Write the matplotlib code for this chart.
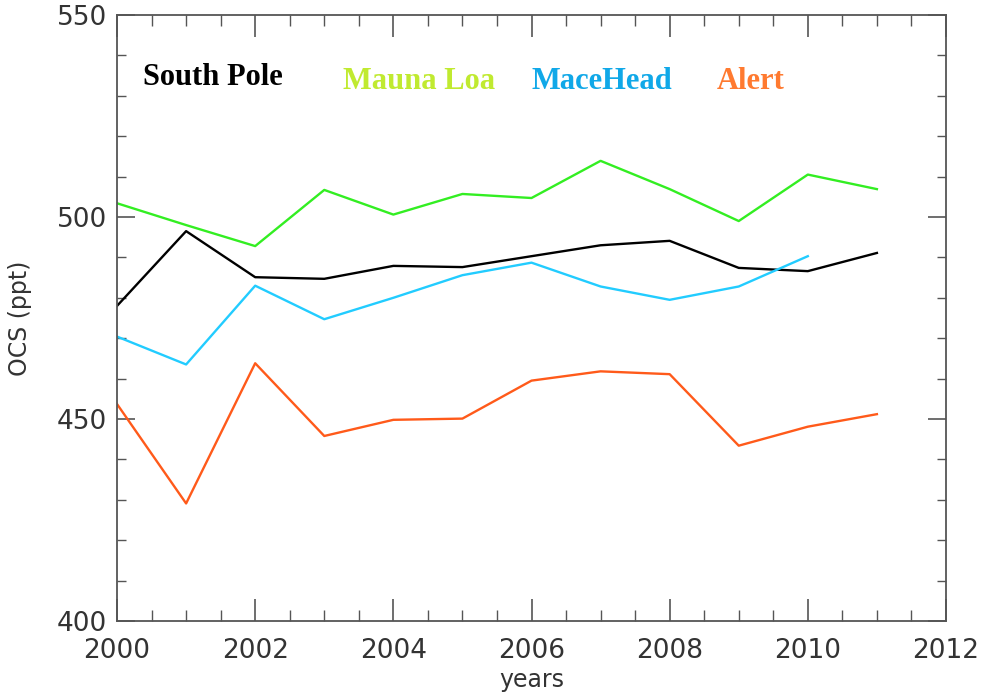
import matplotlib
matplotlib.use('Agg')
import matplotlib.pyplot as plt
from matplotlib.ticker import MultipleLocator

# --- data ---
years = [2000, 2001, 2002, 2003, 2004, 2005, 2006, 2007, 2008, 2009, 2010, 2011]
south_pole = [478.0, 496.5, 485.1, 484.7, 487.9, 487.6, 490.3, 493.0, 494.1, 487.4, 486.6, 491.1]
mauna_loa = [503.4, 498.0, 492.8, 506.7, 500.6, 505.7, 504.7, 513.9, 506.9, 499.0, 510.5, 506.9]
mace_head = [470.4, 463.5, 483.0, 474.7, 480.0, 485.6, 488.7, 482.8, 479.5, 482.8, 490.3]
alert = [453.7, 429.1, 463.8, 445.8, 449.8, 450.1, 459.5, 461.8, 461.1, 443.4, 448.1, 451.2]

fig = plt.figure(figsize=(9.81, 6.97), dpi=100)
ax = fig.add_axes([0.1193, 0.109, 0.845, 0.8695])

ax.plot(years, mauna_loa, color='#33ee22', lw=1.7)
ax.plot(years, south_pole, color='black', lw=1.7)
ax.plot(years[:len(mace_head)], mace_head, color='#22ccff', lw=1.7)
ax.plot(years, alert, color='#ff5a1a', lw=1.7)

ax.set_xlim(2000, 2012)
ax.set_ylim(400, 550)
ax.xaxis.set_major_locator(MultipleLocator(2))
ax.xaxis.set_minor_locator(MultipleLocator(0.5))
ax.yaxis.set_major_locator(MultipleLocator(50))
ax.yaxis.set_minor_locator(MultipleLocator(10))

ax.tick_params(which='both', direction='in', top=True, right=True, color='#555555')
ax.tick_params(axis='x', which='major', length=16, width=1.2, pad=12, labelsize=19, labelcolor='#333333')
ax.tick_params(axis='x', which='minor', length=8, width=1.0)
ax.tick_params(axis='y', which='major', length=13, width=1.2, pad=7, labelsize=19, labelcolor='#333333')
ax.tick_params(axis='y', which='minor', length=6.5, width=1.0)
for s in ax.spines.values():
    s.set_color('#555555')
    s.set_linewidth(1.3)

ax.set_xlabel('years', fontsize=17, color='#333333', labelpad=3)
ax.set_ylabel('OCS (ppt)', fontsize=17, color='#333333', labelpad=18)

# station labels
lab = dict(transform=ax.transAxes, ha='left', va='baseline', family='Liberation Serif',
           fontweight='bold', fontsize=22)
ax.text(0.0314, 0.8845, 'South Pole', color='black', **lab)
ax.text(0.2726, 0.878, 'Mauna Loa', color='#c0ea30', **lab)
ax.text(0.4994, 0.878, 'MaceHead', color='#10a8e8', **lab)
ax.text(0.7238, 0.878, 'Alert', color='#ff7a30', **lab)

fig.savefig('out.png', dpi=100)
